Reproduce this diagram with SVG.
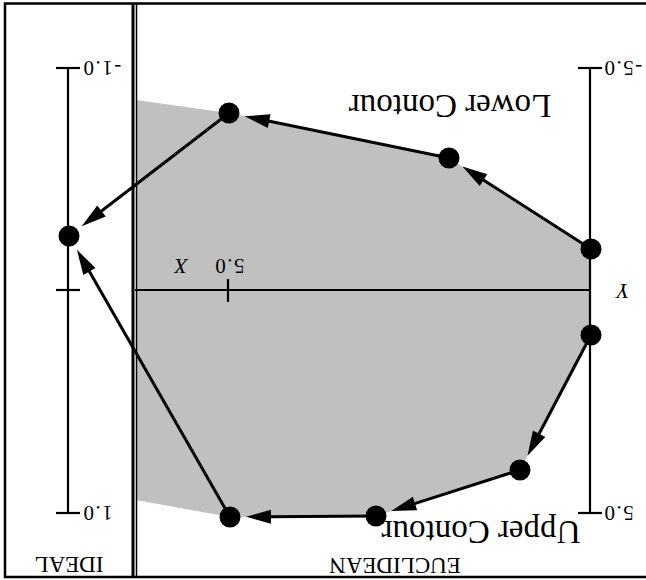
<svg xmlns="http://www.w3.org/2000/svg" width="646" height="580" viewBox="0 0 646 580">
<style>
.frame{fill:none;stroke:#000;stroke-width:2.5}
.axis{fill:none;stroke:#000;stroke-width:2.2}
.edge{fill:none;stroke:#000;stroke-width:3}
.node{fill:#000}
.lbl{font-family:"Liberation Serif","Times New Roman",serif;fill:#000}
.num{font-size:21px;letter-spacing:1.5px}
.big{font-size:33px}
.cap{font-size:23px}
.ital{font-size:22px;font-style:italic}
</style>
<defs>
<marker id="ah" markerUnits="userSpaceOnUse" markerWidth="26" markerHeight="14" refX="2" refY="7" orient="auto" overflow="visible">
<path d="M0,0 L25,7 L0,14 z" fill="#000"/>
</marker>
</defs>
<rect width="646" height="580" fill="#fff"/>
<g id="region">
<polygon points="136,100 229,113 449,158 591,249 591,335 520,470 376,516 230,517 136,500" fill="#c0c0c0"/>
</g>
<g id="frame">
<rect class="frame" x="5" y="3.5" width="645" height="573.5"/>
<line x1="133" y1="3" x2="133" y2="577" stroke="#000" stroke-width="3"/>
<line x1="136.5" y1="3" x2="136.5" y2="577" stroke="#000" stroke-width="1.5"/>
</g>
<g id="ideal-axis">
<line class="axis" x1="68" y1="68" x2="68" y2="513"/>
<line class="axis" x1="56" y1="68" x2="80" y2="68"/>
<line class="axis" x1="56" y1="290" x2="80" y2="290"/>
<line class="axis" x1="56" y1="513" x2="80" y2="513"/>
<text class="lbl num" text-anchor="end" transform="translate(82,61) rotate(180)">-1.0</text>
<text class="lbl num" text-anchor="end" transform="translate(82,506) rotate(180)">1.0</text>
</g>
<g id="euclid-axes">
<line class="axis" x1="590" y1="68" x2="590" y2="513"/>
<line class="axis" x1="578" y1="68" x2="602" y2="68"/>
<line class="axis" x1="578" y1="513" x2="602" y2="513"/>
<line class="axis" x1="135" y1="290" x2="590" y2="290"/>
<line class="axis" x1="228" y1="279" x2="228" y2="302"/>
<text class="lbl num" text-anchor="end" transform="translate(603,61) rotate(180)">-5.0</text>
<text class="lbl num" text-anchor="end" transform="translate(603,506) rotate(180)">5.0</text>
<text class="lbl num" text-anchor="middle" transform="translate(229,259) rotate(180)">5.0</text>
<text class="lbl ital" text-anchor="middle" transform="translate(181,259) rotate(180)">X</text>
<text class="lbl ital" text-anchor="middle" transform="translate(623,284) rotate(180)">Y</text>
</g>
<g id="connectors">
<line class="edge" x1="591" y1="249" x2="481.8" y2="179.0" marker-end="url(#ah)"/>
<line class="edge" x1="449" y1="158" x2="267.2" y2="120.8" marker-end="url(#ah)"/>
<line class="edge" x1="229" y1="113" x2="99.9" y2="212.2" marker-end="url(#ah)"/>
<line class="edge" x1="591" y1="335" x2="538.2" y2="435.5" marker-end="url(#ah)"/>
<line class="edge" x1="520" y1="470" x2="413.1" y2="504.1" marker-end="url(#ah)"/>
<line class="edge" x1="376" y1="516" x2="269" y2="516.7" marker-end="url(#ah)"/>
<line class="edge" x1="230" y1="517" x2="88.4" y2="269.8" marker-end="url(#ah)"/>
</g>
<g id="n1"><circle class="node" cx="229" cy="113" r="10.5"/></g>
<g id="n2"><circle class="node" cx="449" cy="158" r="10.5"/></g>
<g id="n3"><circle class="node" cx="591" cy="249" r="10.5"/></g>
<g id="n4"><circle class="node" cx="591" cy="335" r="10.5"/></g>
<g id="n5"><circle class="node" cx="520" cy="470" r="10.5"/></g>
<g id="n6"><circle class="node" cx="376" cy="516" r="10.5"/></g>
<g id="n7"><circle class="node" cx="230" cy="517" r="10.5"/></g>
<g id="ideal-point"><circle class="node" cx="69" cy="236" r="10.5"/></g>
<g id="labels">
<text class="lbl big" text-anchor="middle" transform="translate(450,95) rotate(180)">Lower Contour</text>
<text class="lbl big" text-anchor="middle" transform="translate(481,521) rotate(180)">Upper Contour</text>
<text class="lbl cap" text-anchor="middle" transform="translate(395,558) rotate(180)">EUCLIDEAN</text>
<text class="lbl cap" text-anchor="middle" transform="translate(69,557) rotate(180)">IDEAL</text>
</g>
</svg>
